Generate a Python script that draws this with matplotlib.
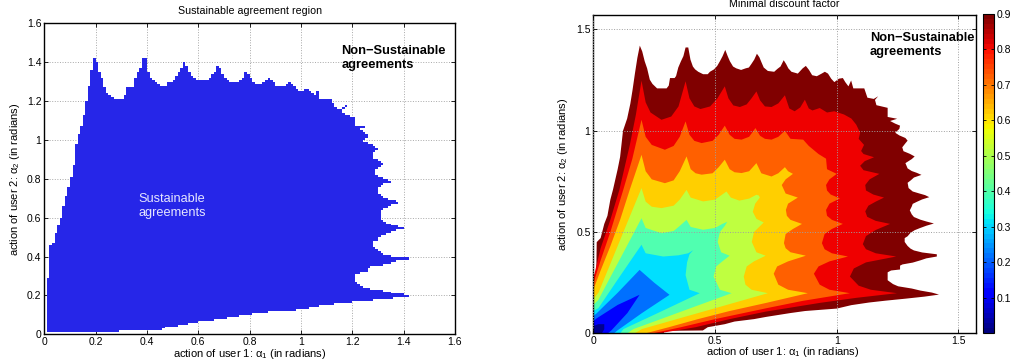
import numpy as np
import matplotlib
matplotlib.use("Agg")
import matplotlib.pyplot as plt
from matplotlib.path import Path
from matplotlib.colors import Normalize, ListedColormap
from matplotlib.ticker import FormatStrFormatter
import matplotlib.colorbar as mcolorbar

plt.rcParams['font.family'] = ['Liberation Sans', 'DejaVu Sans']
plt.rcParams['mathtext.fontset'] = 'custom'
plt.rcParams['mathtext.rm'] = 'Liberation Sans'
plt.rcParams['mathtext.it'] = 'Liberation Sans:italic'

# Region edge and iso-curves are read on the upper half (alpha2 >= alpha1);
# the picture is symmetric, the lower half is the mirror image.
edge_x = [0, 0.012, 0.014, 0.03, 0.045, 0.058, 0.07, 0.081, 0.1, 0.11, 0.122, 0.139, 0.152, 0.161,
          0.171, 0.181, 0.191, 0.201, 0.211, 0.221, 0.232, 0.243, 0.262, 0.301, 0.31, 0.315, 0.334,
          0.34, 0.349, 0.36, 0.37, 0.379, 0.39, 0.399, 0.409, 0.418, 0.431, 0.451, 0.47, 0.479,
          0.496, 0.509, 0.52, 0.531, 0.542, 0.552, 0.561, 0.574, 0.587, 0.607, 0.626, 0.639, 0.649,
          0.661, 0.672, 0.682, 0.691, 0.7, 0.717, 0.743, 0.756, 0.769, 0.782, 0.792, 0.801, 0.814,
          0.84, 0.86, 0.873, 0.886, 0.899, 0.918, 0.938, 0.951, 0.964, 0.977, 0.99, 1.009, 1.025,
          1.035, 1.048, 1.059, 1.068, 1.113, 1.126, 1.152]
edge_y = [0.29, 0.29, 0.45, 0.47, 0.54, 0.58, 0.66, 0.71, 0.81, 0.87, 1.0, 1.06, 1.133, 1.2,
          1.283, 1.36, 1.42, 1.391, 1.343, 1.308, 1.252, 1.231, 1.209, 1.209, 1.223, 1.26, 1.26,
          1.27, 1.312, 1.343, 1.368, 1.411, 1.411, 1.351, 1.317, 1.303, 1.291, 1.279, 1.279, 1.291,
          1.303, 1.32, 1.343, 1.368, 1.399, 1.368, 1.343, 1.317, 1.308, 1.3, 1.308, 1.312, 1.329,
          1.351, 1.38, 1.363, 1.337, 1.312, 1.295, 1.291, 1.305, 1.317, 1.348, 1.329, 1.308, 1.291,
          1.282, 1.308, 1.32, 1.3, 1.274, 1.269, 1.282, 1.291, 1.282, 1.257, 1.24, 1.257, 1.26,
          1.24, 1.219, 1.248, 1.209, 1.209, 1.163, 1.157]
edge_diag = 1.17

# iso-curves of the minimal discount factor (upper half), each ends on the diagonal
c90_x = [0, 0.03, 0.07, 0.107, 0.15, 0.175, 0.198, 0.215, 0.235, 0.28, 0.32, 0.35, 0.379, 0.395,
         0.415, 0.44, 0.48, 0.51, 0.54, 0.555, 0.575, 0.602, 0.63, 0.65, 0.67, 0.685, 0.705, 0.732,
         0.76, 0.787, 0.805, 0.827, 0.85, 0.869, 0.885, 0.9, 0.93, 0.96, 0.99, 1.03]
c90_y = [0.27, 0.42, 0.56, 0.708, 0.93, 1.08, 1.247, 1.14, 1.09, 1.054, 1.07, 1.12, 1.244, 1.16,
         1.12, 1.107, 1.12, 1.16, 1.219, 1.16, 1.125, 1.117, 1.13, 1.16, 1.194, 1.15, 1.12, 1.117,
         1.135, 1.175, 1.11, 1.096, 1.115, 1.153, 1.11, 1.10, 1.112, 1.09, 1.096, 1.08]
c80_x = [0, 0.03, 0.07, 0.123, 0.16, 0.198, 0.215, 0.24, 0.294, 0.33, 0.355, 0.379, 0.395, 0.415,
         0.445, 0.49, 0.515, 0.54, 0.56, 0.58, 0.609, 0.64, 0.666, 0.685, 0.705, 0.732, 0.76,
         0.787, 0.81, 0.862, 0.885]
c80_y = [0.245, 0.36, 0.5, 0.708, 0.86, 1.054, 0.97, 0.93, 0.906, 0.925, 0.97, 1.046, 0.98, 0.95,
         0.939, 0.95, 0.98, 1.025, 0.98, 0.96, 0.956, 0.97, 1.013, 0.975, 0.96, 0.956, 0.97,
         1.0, 0.96, 0.956, 0.925]
c70_x = [0, 0.03, 0.07, 0.11, 0.15, 0.198, 0.215, 0.24, 0.294, 0.33, 0.355, 0.383, 0.4, 0.42,
         0.445, 0.49, 0.515, 0.54, 0.56, 0.58, 0.609, 0.64, 0.67, 0.69, 0.732, 0.76, 0.787]
c70_y = [0.215, 0.31, 0.43, 0.56, 0.71, 0.881, 0.80, 0.76, 0.741, 0.755, 0.80, 0.873, 0.81, 0.79,
         0.783, 0.79, 0.82, 0.857, 0.81, 0.795, 0.791, 0.80, 0.84, 0.79, 0.774, 0.79, 0.82]
c60_x = [0, 0.021, 0.07, 0.11, 0.15, 0.198, 0.215, 0.24, 0.28, 0.33, 0.355, 0.383, 0.4, 0.451,
         0.5, 0.547, 0.565, 0.6, 0.64, 0.67]
c60_y = [0.17, 0.2, 0.343, 0.46, 0.577, 0.717, 0.65, 0.625, 0.618, 0.63, 0.66, 0.708, 0.67, 0.651,
         0.66, 0.70, 0.67, 0.655, 0.665, 0.684]
c50_x = [0, 0.021, 0.07, 0.13, 0.198, 0.215, 0.28, 0.33, 0.355, 0.383, 0.4, 0.451, 0.5, 0.53]
c50_y = [0.14, 0.165, 0.277, 0.413, 0.568, 0.52, 0.494, 0.505, 0.53, 0.56, 0.525, 0.511, 0.52, 0.54]
c40_x = [0, 0.021, 0.1, 0.198, 0.215, 0.287, 0.35, 0.39]
c40_y = [0.11, 0.124, 0.265, 0.437, 0.395, 0.379, 0.385, 0.395]
c30_x = [0, 0.014, 0.1, 0.19]
c30_y = [0.085, 0.099, 0.2, 0.313]
c20_x = [0, 0.014, 0.1]
c20_y = [0.06, 0.074, 0.14]
c10_x = [0, 0.02]
c10_y = [0.035, 0.045]

levels = [0.9, 0.8, 0.7, 0.6, 0.5, 0.4, 0.3, 0.2, 0.1]
level_diag = [1.06, 0.905, 0.80, 0.68, 0.55, 0.41, 0.25, 0.19, 0.045]
# colour of the area just inside each curve (the band below the level); outer band first
band_colors = ['#800000', '#ef0000', '#ff6000', '#ffcf00', '#bfff40',
               '#50ffb0', '#00dfff', '#0070ff', '#0000ff', '#00008f']

cbar_ticks = [0.1, 0.2, 0.3, 0.4, 0.5, 0.6, 0.7, 0.8, 0.9]


def closed_region(xs, ys, d):
    # upper half, diagonal point, mirrored lower half, back to the origin
    px = [0.0] + list(xs) + [d] + list(ys)[::-1] + [0.0]
    py = [0.0] + list(ys) + [d] + list(xs)[::-1] + [0.0]
    return np.array(px), np.array(py)


fig = plt.figure(figsize=(10.13, 3.62), dpi=100)

# ---- left: sustainable agreement region (mask on a 0.01 grid)
ax1 = fig.add_axes([0.0437, 0.0765, 0.4054, 0.859])
ex, ey = closed_region(edge_x, edge_y, edge_diag)
region = Path(np.column_stack([ex, ey]))
g = np.arange(0.01, 1.5, 0.01)
gx, gy = np.meshgrid(g, g)
inside = region.contains_points(np.column_stack([gx.ravel(), gy.ravel()])).reshape(gx.shape)
mask = np.where(inside, 1.0, np.nan)
cells = np.append(g, g[-1] + 0.01)
blue = ListedColormap(['#2626e8'])
blue.set_bad((1, 1, 1, 0))
ax1.pcolormesh(cells, cells, np.ma.masked_invalid(mask), cmap=blue, antialiased=False)

ax1.set_xlim(0, 1.6)
ax1.set_ylim(0, 1.6)
ticks1 = np.arange(0, 1.61, 0.2)
ax1.set_xticks(ticks1)
ax1.set_yticks(ticks1)
ax1.xaxis.set_major_formatter(FormatStrFormatter('%g'))
ax1.yaxis.set_major_formatter(FormatStrFormatter('%g'))
ax1.set_axisbelow(True)
ax1.grid(True, linestyle=':', color='#a8a8a8', linewidth=0.7)
ax1.text(1.158, 1.42, 'Non\u2212Sustainable\nagreements', fontsize=9.3, fontweight='bold',
         va='center', ha='left', linespacing=1.2)
ax1.text(0.366, 0.661, 'Sustainable\nagreements', fontsize=9.2, color='#e6e6ff',
         va='center', ha='left', linespacing=1.15)
ax1.text(0.5, 1.0395, 'Sustainable agreement region', transform=ax1.transAxes,
         ha='center', va='center', fontsize=7.7)

# ---- right: minimal discount factor
ax2 = fig.add_axes([0.5857, 0.0793, 0.3775, 0.879])
curves = [(c90_x, c90_y), (c80_x, c80_y), (c70_x, c70_y), (c60_x, c60_y), (c50_x, c50_y),
          (c40_x, c40_y), (c30_x, c30_y), (c20_x, c20_y), (c10_x, c10_y)]
ax2.fill(ex, ey, color=band_colors[0], linewidth=0, zorder=1)
for (cx, cy), d, col in zip(curves, level_diag, band_colors[1:]):
    px, py = closed_region(cx, cy, d)
    ax2.fill(px, py, color=col, linewidth=0, zorder=1)

ax2.set_xlim(0, np.pi / 2)
ax2.set_ylim(0, np.pi / 2)
ticks2 = [0, 0.5, 1, 1.5]
ax2.set_xticks(ticks2)
ax2.set_yticks(ticks2)
ax2.xaxis.set_major_formatter(FormatStrFormatter('%g'))
ax2.yaxis.set_major_formatter(FormatStrFormatter('%g'))
ax2.set_axisbelow(False)
ax2.grid(True, linestyle=':', color='#a0a0a0', linewidth=0.7)
ax2.text(1.135, 1.424, 'Non\u2212Sustainable\nagreements', fontsize=9.3, fontweight='bold',
         va='center', ha='left', linespacing=1.2)
ax2.text(0.5, 1.0346, 'Minimal discount factor', transform=ax2.transAxes,
         ha='center', va='center', fontsize=7.7)

for ax, xl, yl in [(ax1, (0.5, -0.063), (-0.0713, 0.5)), (ax2, (0.496, -0.0595), (-0.0785, 0.5))]:
    ax.set_xlabel('action of user 1: \u03b1$_1$ (in radians)', fontsize=8)
    ax.set_ylabel('action of user 2: \u03b1$_2$ (in radians)', fontsize=8)
    ax.xaxis.set_label_coords(*xl)
    ax.yaxis.set_label_coords(*yl)
    ax.xaxis.label.set_va('center')
    ax.yaxis.label.set_va('center')
    ax.tick_params(direction='in', length=3, width=0.6, labelsize=7.5, pad=2.0,
                   top=True, right=True)
    for s in ax.spines.values():
        s.set_linewidth(1.0)

# ---- colour bar
cax = fig.add_axes([0.9707, 0.0793, 0.0106, 0.882])
cb = mcolorbar.ColorbarBase(cax, cmap=plt.get_cmap('jet', 64), norm=Normalize(0, 0.9),
                            ticks=cbar_ticks)
cb.ax.yaxis.set_major_formatter(FormatStrFormatter('%.1f'))
cb.ax.tick_params(direction='in', length=2, width=0.6, labelsize=7.5, pad=1.5,
                  left=True, right=True)
cb.outline.set_linewidth(0.8)

fig.savefig('out.png', dpi=100)
